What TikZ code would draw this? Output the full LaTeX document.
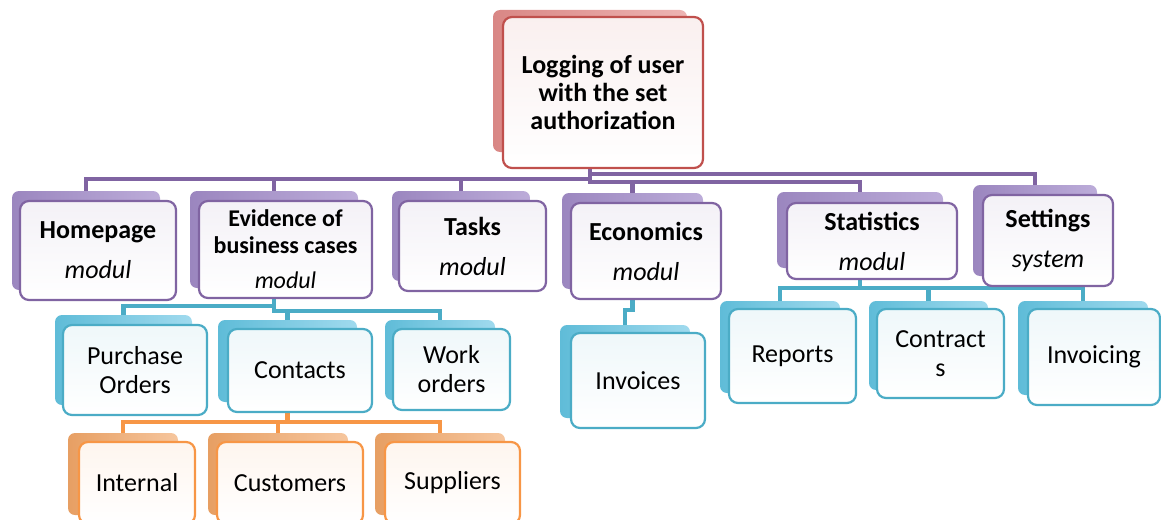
\documentclass[tikz,border=0pt]{standalone}
\usepackage{fontspec}
\setmainfont{Carlito}
\usepackage{tikz}
\usetikzlibrary{backgrounds}

\definecolor{purp}{HTML}{8064A2}
\definecolor{purpD}{HTML}{9B86BF}
\definecolor{purpL}{HTML}{BCACD9}
\definecolor{rootc}{HTML}{C0504D}
\definecolor{rootD}{HTML}{D98785}
\definecolor{rootL}{HTML}{EDB4B3}
\definecolor{aqua}{HTML}{4BACC6}
\definecolor{aquaD}{HTML}{5FBCD8}
\definecolor{aquaL}{HTML}{A0DAEE}
\definecolor{oran}{HTML}{F79646}
\definecolor{oranD}{HTML}{E79F63}
\definecolor{oranL}{HTML}{F6C69E}

\begin{document}
\begin{tikzpicture}
[x=1pt,y=-1pt,every node/.style={rectangle,inner sep=0pt,align=center,font=\fontsize{26}{29}\selectfont},
 frontbox/.style={draw=#1,line width=2.2pt,rounded corners=9pt,top color=#1!9!white,bottom color=white},
 backbox/.style 2 args={left color=#1,right color=#2,rounded corners=7pt},
 pline/.style={draw=purp,line width=4.5pt},
 aline/.style={draw=aqua,line width=4.5pt},
 oline/.style={draw=oran,line width=4.5pt}]
\useasboundingbox (0,0) rectangle (1161,519);

% root
\node[backbox={rootD}{rootL},minimum width=194pt,minimum height=142pt] (Lg0) at (590,81) {};
\node[frontbox=rootc,minimum width=200pt,minimum height=151pt,font=\bfseries\fontsize{26}{28}\selectfont] (Lg) at (603,92.5) {Logging of user\\with the set\\authorization};

% modules
\node[backbox={purpD}{purpL},minimum width=148pt,minimum height=99pt] (Hp0) at (86,240.5) {};
\node[frontbox=purp,minimum width=156pt,minimum height=99pt] (Hp) at (98,250.5) {\textbf{Homepage}\\[11pt]\textit{modul}};
\node[backbox={purpD}{purpL},minimum width=168pt,minimum height=97pt] (Ev0) at (274,239.5) {};
\node[frontbox=purp,minimum width=173pt,minimum height=97pt,font=\fontsize{24}{27}\selectfont] (Ev) at (285.5,249.5) {\textbf{Evidence of}\\\textbf{business cases}\\[8pt]\textit{modul}};
\node[backbox={purpD}{purpL},minimum width=138pt,minimum height=90pt] (Ts0) at (461,236) {};
\node[frontbox=purp,minimum width=147pt,minimum height=90pt] (Ts) at (472.5,246) {\textbf{Tasks}\\[11pt]\textit{modul}};
\node[backbox={purpD}{purpL},minimum width=141pt,minimum height=96pt] (Ec0) at (632.5,241) {};
\node[frontbox=purp,minimum width=150pt,minimum height=96pt] (Ec) at (646,251) {\textbf{Economics}\\[11pt]\textit{modul}};
\node[backbox={purpD}{purpL},minimum width=166pt,minimum height=76pt] (St0) at (860,230) {};
\node[frontbox=purp,minimum width=170pt,minimum height=76pt] (St) at (872,241) {\textbf{Statistics}\\[11pt]\textit{modul}};
\node[backbox={purpD}{purpL},minimum width=124pt,minimum height=91pt] (Se0) at (1035,230.5) {};
\node[frontbox=purp,minimum width=130pt,minimum height=91pt] (Se) at (1048,240.5) {\textbf{Settings}\\[11pt]\textit{system}};

% evidence parts
\node[backbox={aquaD}{aquaL},minimum width=137pt,minimum height=90pt] (Po0) at (123.5,360) {};
\node[frontbox=aqua,minimum width=144pt,minimum height=90pt] (Po) at (135,370) {Purchase\\Orders};
\node[backbox={aquaD}{aquaL},minimum width=139pt,minimum height=82pt] (Co0) at (287.5,361) {};
\node[frontbox=aqua,minimum width=144pt,minimum height=83pt] (Co) at (300,370.5) {Contacts};
\node[backbox={aquaD}{aquaL},minimum width=110pt,minimum height=80pt] (Wo0) at (440,360) {};
\node[frontbox=aqua,minimum width=117pt,minimum height=81pt] (Wo) at (451.5,369.5) {Work\\orders};

% contacts parts
\node[backbox={oranD}{oranL},minimum width=110pt,minimum height=82pt] (In0) at (123,474) {};
\node[frontbox=oran,minimum width=116pt,minimum height=82pt] (In) at (137,483) {Internal};
\node[backbox={oranD}{oranL},minimum width=140pt,minimum height=82pt] (Cu0) at (278,474) {};
\node[frontbox=oran,minimum width=146pt,minimum height=82pt] (Cu) at (290,483) {Customers};
\node[backbox={oranD}{oranL},minimum width=130pt,minimum height=82pt] (Su0) at (440,474) {};
\node[frontbox=oran,minimum width=135pt,minimum height=82pt] (Su) at (452.5,483) {Suppliers};

% economics and statistics parts
\node[backbox={aquaD}{aquaL},minimum width=130pt,minimum height=93pt] (Iv0) at (625,371.5) {};
\node[frontbox=aqua,minimum width=134pt,minimum height=95pt] (Iv) at (638,380.5) {Invoices};
\node[backbox={aquaD}{aquaL},minimum width=120pt,minimum height=92pt] (Re0) at (780,347) {};
\node[frontbox=aqua,minimum width=127pt,minimum height=94pt] (Re) at (792.5,356) {Reports};
\node[backbox={aquaD}{aquaL},minimum width=119pt,minimum height=89pt] (Ct0) at (928.5,345.5) {};
\node[frontbox=aqua,minimum width=127pt,minimum height=89pt] (Ct) at (940.5,353.5) {Contract\\s};
\node[backbox={aquaD}{aquaL},minimum width=130pt,minimum height=94pt] (Ig0) at (1083,348) {};
\node[frontbox=aqua,minimum width=132pt,minimum height=96pt] (Ig) at (1094,357) {Invoicing};

\begin{scope}[on background layer]
\draw[pline] (Lg0.south) -- ++(0,27) -| (Hp0.north);
\draw[pline] (Lg0.south) -- ++(0,27) -| (Ev0.north);
\draw[pline] (Lg0.south) -- ++(0,27) -| (Ts0.north);
\draw[pline] (Lg0.south) -- ++(0,30) -| (Ec0.north);
\draw[pline] (Lg0.south) -- ++(0,30) -| (St0.north);
\draw[pline] (Lg0.south) -- ++(0,22) -| (Se0.north);
\draw[aline] (Ev0.south) -- ++(0,18) -| (Po0.north);
\draw[aline] (Ev0.south) -- ++(0,23) -| (Co0.north);
\draw[aline] (Ev0.south) -- ++(0,23) -| (Wo0.north);
\draw[oline] (Co0.south) -- ++(0,20) -| (In0.north);
\draw[oline] (Co0.south) -- ++(0,20) -| (Cu0.north);
\draw[oline] (Co0.south) -- ++(0,20) -| (Su0.north);
\draw[aline] (Ec0.south) -- ++(0,21) -| (Iv0.north);
\draw[aline] (St0.south) -- ++(0,20) -| (Re0.north);
\draw[aline] (St0.south) -- ++(0,20) -| (Ct0.north);
\draw[aline] (St0.south) -- ++(0,20) -| (Ig0.north);
\end{scope}
\end{tikzpicture}
\end{document}
